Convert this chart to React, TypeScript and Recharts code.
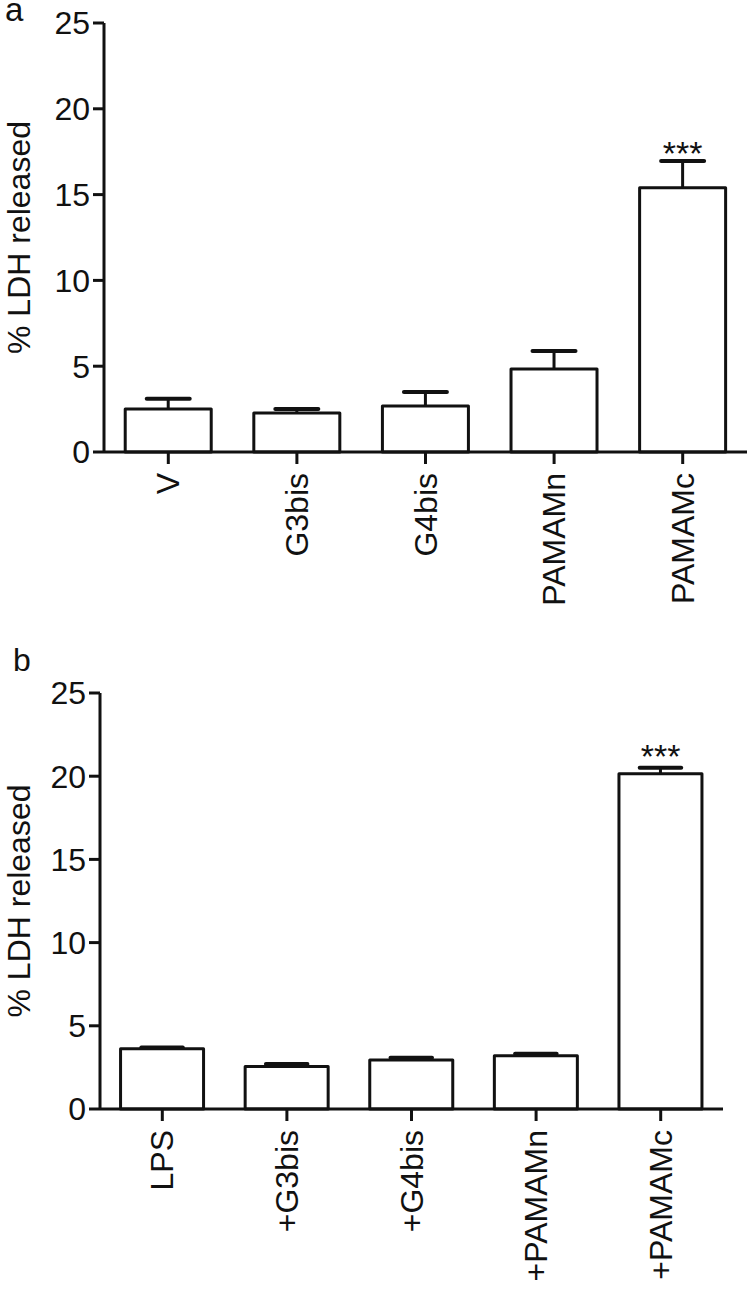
import React from "react"
import {
  BarChart,
  Bar,
  XAxis,
  YAxis,
  ReferenceDot,
  Label,
} from "recharts"

const FONT = "'Liberation Sans', Arial, Helvetica, sans-serif"
const INK = "#111"

// panel a
const categoriesA = ["V", "G3bis", "G4bis", "PAMAMn", "PAMAMc"]
const meansA = [2.5, 2.27, 2.68, 4.84, 15.4]
const semA = [0.6, 0.23, 0.82, 1.05, 1.56]
const sigA = ["", "", "", "", "***"]

// panel b
const categoriesB = ["LPS", "+G3bis", "+G4bis", "+PAMAMn", "+PAMAMc"]
const meansB = [3.62, 2.55, 2.95, 3.2, 20.15]
const semB = [0.08, 0.15, 0.13, 0.12, 0.36]
const sigB = ["", "", "", "", "***"]

const yTicks = [0, 5, 10, 15, 20, 25]
const yLabel = "% LDH released"

function buildRows(cats: string[], means: number[], sems: number[]) {
  return cats.map((c, i) => ({ name: c, value: means[i], sem: sems[i] }))
}

// open bar with an upward-only SEM whisker (prism style)
function BarWithError(props: any) {
  const { x, y, width, height, payload } = props
  const pxPerUnit = height / payload.value
  const cx = x + width / 2
  const ey = y - payload.sem * pxPerUnit
  const half = width / 4
  return (
    <g>
      <line x1={cx} y1={y} x2={cx} y2={ey} stroke={INK} strokeWidth={3} />
      <line x1={cx - half} y1={ey} x2={cx + half} y2={ey} stroke={INK} strokeWidth={4} strokeLinecap="round" />
      <rect x={x} y={y} width={width} height={height} fill="#fff" stroke={INK} strokeWidth={3} strokeLinejoin="round" />
    </g>
  )
}

function RotatedTick({ x, y, payload }: any) {
  const ty = y + 7
  return (
    <text
      x={x}
      y={ty}
      dy="0.35em"
      textAnchor="end"
      transform={`rotate(-90 ${x} ${ty})`}
      fill={INK}
      fontSize={32}
      fontFamily={FONT}
    >
      {payload.value}
    </text>
  )
}

function YTitle({ viewBox }: any) {
  const cx = 30
  const cy = viewBox.y + viewBox.height / 2
  return (
    <text
      x={cx}
      y={cy}
      textAnchor="middle"
      transform={`rotate(-90 ${cx} ${cy})`}
      fill={INK}
      fontSize={32}
      fontFamily={FONT}
    >
      {yLabel}
    </text>
  )
}

interface PanelProps {
  cats: string[]
  means: number[]
  sems: number[]
  sig: string[]
  width: number
  height: number
  top: number
  right: number
  yAxisWidth: number
  xAxisHeight: number
  starOffset: number
}

function Panel(p: PanelProps) {
  const rows = buildRows(p.cats, p.means, p.sems)
  return (
    <BarChart
      width={p.width}
      height={p.height}
      data={rows}
      margin={{ top: p.top, right: p.right, bottom: 0, left: 0 }}
      barCategoryGap="16.5%"
    >
      <XAxis
        dataKey="name"
        height={p.xAxisHeight}
        interval={0}
        tickSize={12}
        axisLine={{ stroke: INK, strokeWidth: 3 }}
        tickLine={{ stroke: INK, strokeWidth: 3 }}
        tick={<RotatedTick />}
      />
      <YAxis
        width={p.yAxisWidth}
        domain={[0, 25]}
        ticks={yTicks}
        tickSize={11}
        tickMargin={3}
        axisLine={{ stroke: INK, strokeWidth: 3 }}
        tickLine={{ stroke: INK, strokeWidth: 3 }}
        tick={{ fontSize: 32, fill: INK, fontFamily: FONT }}
      >
        <Label content={<YTitle />} />
      </YAxis>
      <Bar
        dataKey="value"
        shape={<BarWithError />}
        isAnimationActive={false}
      />
      {p.sig.map((s, i) =>
        s ? (
          <ReferenceDot
            key={i}
            x={p.cats[i]}
            y={p.means[i] + p.sems[i]}
            r={0}
            fill="none"
            stroke="none"
            label={{
              value: s,
              position: "top",
              offset: p.starOffset,
              fontSize: 34,
              fill: INK,
              fontFamily: FONT,
            }}
          />
        ) : null
      )}
    </BarChart>
  )
}

export default function App() {
  return (
    <div
      style={{
        position: "absolute",
        left: 0,
        top: 0,
        width: 752,
        height: 1296,
        background: "#fff",
        fontFamily: FONT,
        color: INK,
      }}
    >
      <div style={{ position: "absolute", left: 0, top: 0 }}>
        <Panel
          cats={categoriesA}
          means={meansA}
          sems={semA}
          sig={sigA}
          width={752}
          height={640}
          top={23}
          right={5}
          yAxisWidth={104}
          xAxisHeight={188}
          starOffset={-4}
        />
      </div>
      <div style={{ position: "absolute", left: 0, top: 650 }}>
        <Panel
          cats={categoriesB}
          means={meansB}
          sems={semB}
          sig={sigB}
          width={752}
          height={646}
          top={43}
          right={29}
          yAxisWidth={100}
          xAxisHeight={187}
          starOffset={0}
        />
      </div>
      <div style={{ position: "absolute", left: 5, top: 0, fontSize: 33, lineHeight: 0.6 }}>a</div>
      <div style={{ position: "absolute", left: 13, top: 651, fontSize: 32, lineHeight: 0.6 }}>b</div>
    </div>
  )
}
